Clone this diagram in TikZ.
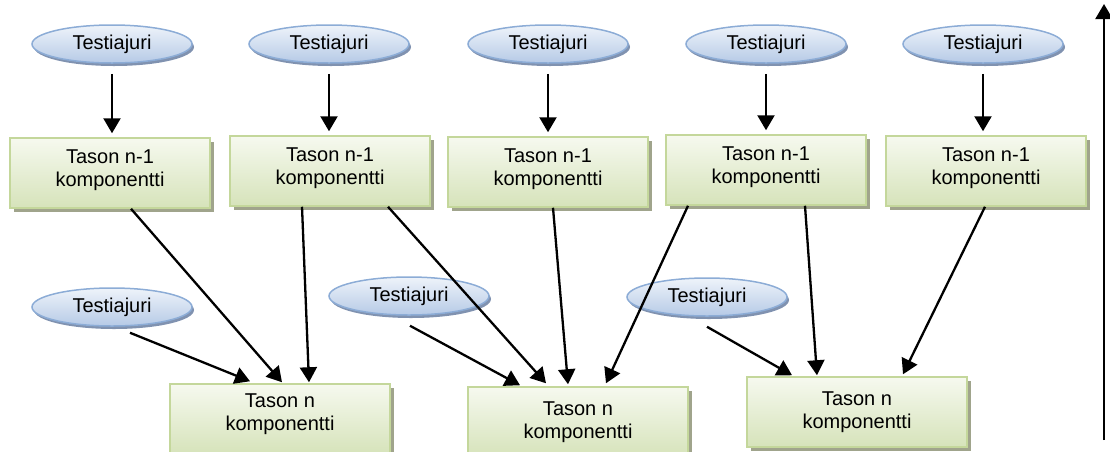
\documentclass[tikz,border=0pt]{standalone}
\usepackage{fontspec}
\setmainfont{Liberation Sans}
\usetikzlibrary{arrows.meta,shapes.geometric,shadows}

\definecolor{drvline}{RGB}{140,172,214}
\definecolor{drvtop}{RGB}{238,243,250}
\definecolor{drvbot}{RGB}{182,202,230}
\definecolor{drvshadow}{RGB}{128,146,176}
\definecolor{compline}{RGB}{196,215,155}
\definecolor{comptop}{RGB}{246,249,239}
\definecolor{compbot}{RGB}{214,227,186}
\definecolor{compshadow}{RGB}{160,164,140}

\newcommand\diagfont{\fontsize{20pt}{23pt}\selectfont}

\tikzset{
  drv/.style={ellipse, minimum width=160pt, minimum height=38pt, inner sep=0pt,
    draw=drvline, line width=1.5pt, top color=drvtop, bottom color=drvbot,
    drop shadow={shadow xshift=2pt, shadow yshift=-3pt, fill=drvshadow, opacity=1},
    font=\diagfont},
  comp/.style={rectangle, minimum height=70pt, inner sep=0pt,
    draw=compline, line width=1.5pt, top color=comptop, bottom color=compbot,
    drop shadow={shadow xshift=4pt, shadow yshift=-4pt, fill=compshadow, opacity=1}},
  upper/.style={comp, minimum width=200pt},
  lower/.style={comp, minimum width=220pt},
  lbl/.style={align=center, font=\diagfont, inner sep=0pt},
  arr/.style={line width=2.3pt, -{Triangle[length=15pt,width=17pt]}}
}

\begin{document}
\begin{tikzpicture}[x=1pt,y=-1pt]
\useasboundingbox (0,0) rectangle (1110,451);

% upper level: test drivers
\node[drv] (e1) at (112,44) {Testiajuri};
\node[drv] (e2) at (329,44) {Testiajuri};
\node[drv] (e3) at (548,44) {Testiajuri};
\node[drv] (e4) at (766,44) {Testiajuri};
\node[drv] (e5) at (983,44) {Testiajuri};

% upper level: components n-1
\node[upper] (b1) at (110,173) {};
\node[upper] (b2) at (330,171) {};
\node[upper] (b3) at (548,172) {};
\node[upper] (b4) at (766,170) {};
\node[upper] (b5) at (986,171) {};
\foreach \b in {b1,b2,b3,b4,b5}
  \node[lbl] (\b-t) at ([yshift=3pt]\b.center) {Tason n-1\\komponentti};

% lower level: test drivers
\node[drv] (e6) at (112,307) {Testiajuri};
\node[drv] (e7) at (409,296) {Testiajuri};
\node[drv] (e8) at (707,297) {Testiajuri};

% lower level: components n
\node[lower] (bA) at (280,419) {};
\node[lower] (bB) at (578,422) {};
\node[lower] (bC) at (857,412) {};
\node[lbl] (bA-t) at ([yshift=5pt]bA.center) {Tason n\\komponentti};
\node[lbl] (bB-t) at (bB.center) {Tason n\\komponentti};
\node[lbl] (bC-t) at (bC.center) {Tason n\\komponentti};

% drivers feeding the upper components
\foreach \e/\b in {e1/b1,e2/b2,e3/b3,e4/b4,e5/b5}{
  \coordinate (\e-end) at (\e.south |- \b.north);
  \draw[arr] ([yshift=-10pt]\e.south) -- ([yshift=4pt]\e-end);
}

% connections into component A
\draw[arr] ([xshift=18pt,yshift=-6pt]e6.south) -- ([xshift=-30pt,yshift=2pt]bA.north);
\draw[arr] ([xshift=21pt]b1.south) -- ([xshift=2pt,yshift=1pt]bA.north);
\draw[arr] ([xshift=-28pt]b2.south) -- ([xshift=29pt,yshift=1pt]bA.north);

% connections into component B
\draw[arr] ([xshift=1pt,yshift=-10pt]e7.south) -- ([xshift=-58pt,yshift=1pt]bB.north);
\draw[arr] ([xshift=58pt]b2.south) -- ([xshift=-32pt,yshift=3pt]bB.north);
\draw[arr] ([xshift=5pt]b3.south) -- ([xshift=-10pt,yshift=2pt]bB.north);
\draw[arr] ([xshift=-78pt]b4.south) -- ([xshift=28pt,yshift=3pt]bB.north);

% connections into component C
\draw[arr] ([yshift=-10pt]e8.south) -- ([xshift=-65pt,yshift=1pt]bC.north);
\draw[arr] ([xshift=39pt]b4.south) -- ([xshift=-40pt,yshift=1pt]bC.north);
\draw[arr] ([xshift=-1pt]b5.south) -- ([xshift=46pt,yshift=2pt]bC.north);

% level axis
\coordinate (axisbot) at (1104,440);
\coordinate (axistop) at (1104,4);
\draw[arr] (axisbot) -- (axistop);
\end{tikzpicture}
\end{document}
